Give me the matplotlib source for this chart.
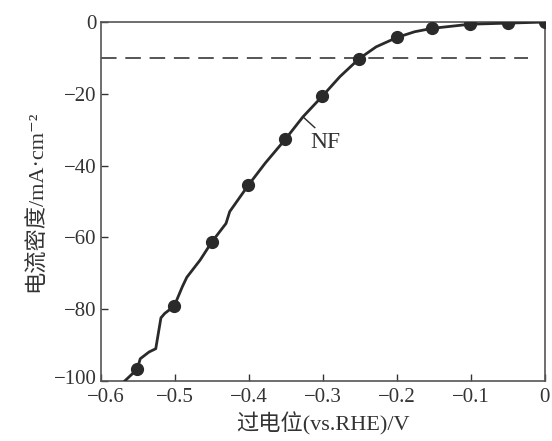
import matplotlib
matplotlib.use('Agg')
import matplotlib.pyplot as plt
import matplotlib.transforms as mtransforms

# LSV curve of NF (overpotential vs. RHE, V ; current density, mA cm^-2)
curve_v = [0.0, -0.05, -0.101, -0.152, -0.176, -0.20, -0.228, -0.251, -0.277,
           -0.301, -0.327, -0.351, -0.378, -0.401, -0.426, -0.431, -0.450,
           -0.466, -0.484, -0.490, -0.501, -0.514, -0.519, -0.526, -0.535,
           -0.547, -0.551, -0.568, -0.575]
curve_j = [0.0, -0.3, -0.6, -1.75, -2.7, -4.3, -6.9, -10.2, -15.2,
           -20.7, -26.4, -32.7, -39.3, -45.5, -52.8, -56.1, -61.2,
           -66.3, -71.1, -73.7, -79.1, -81.2, -82.4, -91.0, -91.9,
           -93.8, -96.7, -100.0, -102.0]

marker_v = [0.0, -0.05, -0.101, -0.152, -0.20, -0.251, -0.301, -0.351,
            -0.401, -0.450, -0.501, -0.551]
marker_j = [0.0, -0.3, -0.6, -1.75, -4.3, -10.2, -20.7, -32.7,
            -45.5, -61.2, -79.1, -96.7]

ref_j = -10
xticks = [-0.6, -0.5, -0.4, -0.3, -0.2, -0.1, 0]
xtick_labels = ['\u22120.6', '\u22120.5', '\u22120.4', '\u22120.3', '\u22120.2', '\u22120.1', '0']
yticks = [-100, -80, -60, -40, -20, 0]
ytick_labels = ['\u2212100', '\u221280', '\u221260', '\u221240', '\u221220', '0']

plt.rcParams['font.family'] = ['Liberation Serif', 'Noto Sans CJK SC', 'DejaVu Serif']

fig = plt.figure(figsize=(5.52, 4.41), dpi=100)
ax = fig.add_axes([0.183, 0.136, 0.804, 0.814])

ink = '#2a2a2a'
ax.plot([-0.6, -0.023], [ref_j, ref_j], color='#555555', lw=1.4,
        dashes=(8, 4.5))
ax.plot(curve_v, curve_j, color=ink, lw=2.0, zorder=3)
ax.plot(marker_v, marker_j, 'o', color=ink, ms=8.5, zorder=4)

# label with leader line
ax.plot([-0.327, -0.311], [-26.4, -29.4], color=ink, lw=1.0)
ax.text(-0.297, -33.6, 'NF', fontsize=17, ha='center', va='center', color='#333333')

ax.set_xlim(-0.6, 0)
ax.set_ylim(-100, 0)
ax.set_xticks(xticks)
ax.set_xticklabels(xtick_labels)
ax.set_yticks(yticks)
ax.set_yticklabels(ytick_labels)
ax.tick_params(direction='in', length=5, width=1.0, labelsize=15,
               colors='#333333', pad=3)
ax.tick_params(axis='x', pad=5)

# corner labels sit a little apart, as in the original
first_x = ax.get_xticklabels()[0]
first_x.set_transform(first_x.get_transform() +
                      mtransforms.ScaledTranslation(5 / 100, 0, fig.dpi_scale_trans))
first_y = ax.get_yticklabels()[0]
first_y.set_transform(first_y.get_transform() +
                      mtransforms.ScaledTranslation(0, 4 / 100, fig.dpi_scale_trans))

for s in ax.spines.values():
    s.set_color('#555555')
    s.set_linewidth(1.2)

ax.set_xlabel('过电位(vs.RHE)/V', fontsize=16, color='#333333', labelpad=4)
ax.set_ylabel('电流密度/mA\u00b7cm\u207b\u00b2', fontsize=16, color='#333333', labelpad=5)

fig.savefig('out.png', dpi=100)
